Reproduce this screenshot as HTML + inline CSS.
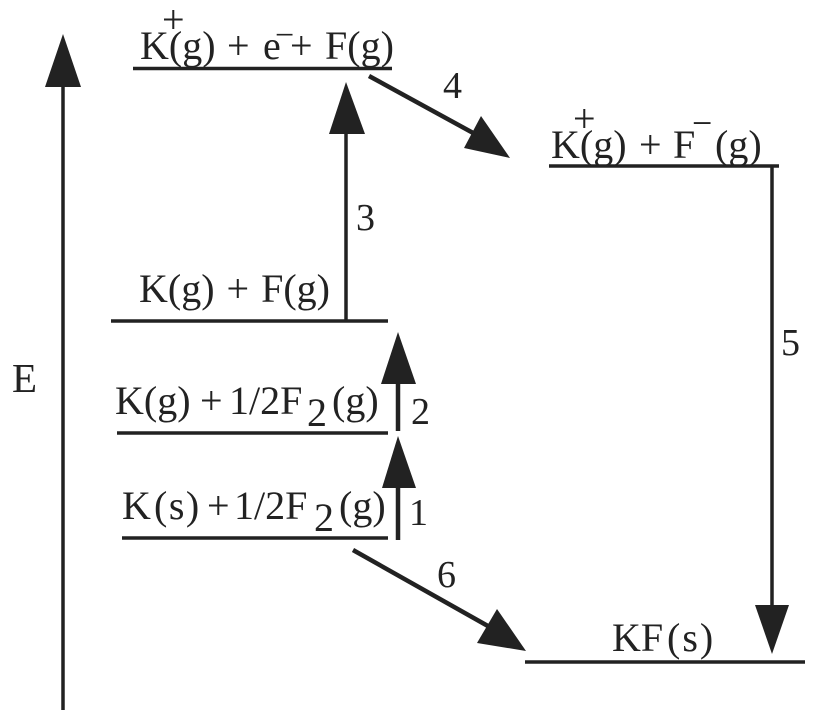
<!DOCTYPE html>
<html>
<head>
<meta charset="utf-8">
<style>
html,body{margin:0;padding:0;background:#fff;width:819px;height:723px;overflow:hidden}
svg{display:block}
text{font-family:"Liberation Serif",serif;font-size:40px;fill:#222}
</style>
</head>
<body>
<svg width="819" height="723" viewBox="0 0 819 723" xmlns="http://www.w3.org/2000/svg">
<g stroke="#222" stroke-width="3.5" fill="none">
<line x1="63" y1="80" x2="63" y2="710"/>
<line x1="133" y1="68.5" x2="392" y2="68.5"/>
<line x1="549" y1="166" x2="779" y2="166"/>
<line x1="111" y1="321" x2="388" y2="321"/>
<line x1="117" y1="433" x2="388" y2="433"/>
<line x1="122" y1="538" x2="388" y2="538"/>
<line x1="525" y1="662" x2="805" y2="662"/>
<line x1="346" y1="130" x2="346" y2="321"/>
<line x1="772" y1="165" x2="772" y2="610"/>
</g>
<g stroke="#222" stroke-width="4.5" fill="none">
<line x1="398" y1="380" x2="398" y2="431"/>
<line x1="398" y1="485" x2="398" y2="540"/>
<line x1="369" y1="76" x2="475" y2="134"/>
<line x1="353" y1="550" x2="495" y2="630"/>
</g>
<g fill="#222">
<polygon points="63,34 45,87 81,87"/>
<polygon points="346,82 329,134 365,134"/>
<polygon points="398,332 381,384 416,384"/>
<polygon points="398,436 382,488 416,488"/>
<polygon points="772,654 755,605 789,605"/>
<polygon points="510,158 464,148 481,116"/>
<polygon points="526,651 477,643 497,609"/>
</g>
<text x="140" y="59">K(g)</text>
<text x="227" y="59">+</text>
<text x="263" y="59">e</text>
<text x="290" y="59">+</text>
<text x="325" y="59">F(g)</text>
<text x="162" y="33">+</text>
<text x="275" y="46" style="font-size:34px">−</text>
<text x="551" y="158">K(g)</text>
<text x="639" y="158">+</text>
<text x="673" y="158">F</text>
<text x="715" y="158">(g)</text>
<text x="573" y="132">+</text>
<text x="692" y="135" style="font-size:36px">−</text>
<text x="139" y="302" word-spacing="2">K(g) + F(g)</text>
<text x="115" y="414">K(g)</text>
<text x="200" y="414">+</text>
<text x="229" y="414">1/2F</text>
<text x="307" y="426">2</text>
<text x="332" y="414">(g)</text>
<text x="122" y="519">K</text>
<text x="154" y="519" letter-spacing="1.5">(s)</text>
<text x="207" y="519">+</text>
<text x="234" y="519">1/2F</text>
<text x="314" y="531">2</text>
<text x="339" y="519">(g)</text>
<text x="612" y="651">KF</text>
<text x="667" y="651" letter-spacing="2">(s)</text>
<text x="12" y="392" style="font-size:41px">E</text>
<text x="443" y="98" style="font-size:38px">4</text>
<text x="356" y="230" style="font-size:38px">3</text>
<text x="411" y="424" style="font-size:38px">2</text>
<text x="409" y="525" style="font-size:38px">1</text>
<text x="781" y="355" style="font-size:38px">5</text>
<text x="437" y="587" style="font-size:38px">6</text>
</svg>
</body>
</html>
